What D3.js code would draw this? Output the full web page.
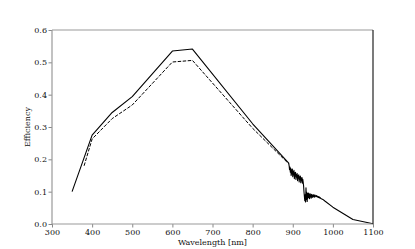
<!DOCTYPE html>
<html>
<head>
<meta charset="utf-8">
<script src="https://cdn.jsdelivr.net/npm/d3@7"></script>
<style>
  body { margin: 0; background: #fff; }
  svg text { font-family: "DejaVu Serif", serif; }
</style>
</head>
<body>
<svg id="chart" width="415" height="249"></svg>
<script>
// solid curve: smooth part, wavelength [nm] and efficiency
const solidWlA = [350, 400, 450, 500, 600, 650, 800, 890];
const solidEffA = [0.100, 0.275, 0.345, 0.394, 0.535, 0.541, 0.310, 0.188];

// solid curve: noisy part, 891..970 nm in 1 nm steps
const noisyStart = 891;
const noisyEff = [
  0.180, 0.168, 0.176, 0.160, 0.172, 0.150, 0.168, 0.155, 0.170, 0.146,
  0.162, 0.152, 0.166, 0.140, 0.158, 0.148, 0.160, 0.138, 0.154, 0.145,
  0.156, 0.134, 0.150, 0.142, 0.152, 0.130, 0.146, 0.138, 0.148, 0.128,
  0.142, 0.134, 0.144, 0.126, 0.138, 0.130, 0.118, 0.100, 0.085, 0.072,
  0.090, 0.068, 0.112, 0.076, 0.098, 0.070, 0.094, 0.080, 0.096, 0.082,
  0.092, 0.078, 0.094, 0.084, 0.090, 0.080, 0.092, 0.084, 0.089, 0.082,
  0.091, 0.085, 0.088, 0.083, 0.090, 0.086, 0.087, 0.084, 0.088, 0.085,
  0.086, 0.083, 0.085, 0.082, 0.084, 0.081, 0.083, 0.080, 0.081, 0.079
];

// solid curve: tail
const solidWlB = [975, 980, 1000, 1050, 1100];
const solidEffB = [0.076, 0.071, 0.052, 0.014, 0.001];

// dashed curve
const dashWl = [380, 400, 450, 500, 600, 650, 800, 890];
const dashEff = [0.180, 0.263, 0.326, 0.368, 0.501, 0.506, 0.296, 0.186];

const xTicks = [300, 400, 500, 600, 700, 800, 900, 1000, 1100];
const yTicks = [0.0, 0.1, 0.2, 0.3, 0.4, 0.5, 0.6];

const svg = d3.select('#chart');
const margin = { top: 30, right: 42, bottom: 25, left: 52 };
const width = 415 - margin.left - margin.right;
const height = 249 - margin.top - margin.bottom;

const x = d3.scaleLinear().domain([300, 1100]).range([0, width]);
const y = d3.scaleLinear().domain([0, 0.6]).range([height, 0]);

const g = svg.append('g').attr('transform', `translate(${margin.left},${margin.top})`);

const line = d3.line().x(d => x(d[0])).y(d => y(d[1]));

const solidData = solidWlA.map((w, i) => [w, solidEffA[i]])
  .concat(noisyEff.map((v, i) => [noisyStart + i, v]))
  .concat(solidWlB.map((w, i) => [w, solidEffB[i]]));

g.append('path')
  .datum(dashWl.map((w, i) => [w, dashEff[i]]))
  .attr('d', line)
  .attr('fill', 'none')
  .attr('stroke', '#000')
  .attr('stroke-width', 1)
  .attr('stroke-dasharray', '3.5,1.5');

g.append('path')
  .datum(solidData)
  .attr('d', line)
  .attr('fill', 'none')
  .attr('stroke', '#000')
  .attr('stroke-width', 1.1)
  .attr('stroke-linejoin', 'round');

// axes
const xAxis = g.append('g')
  .attr('transform', `translate(0,${height})`)
  .call(d3.axisBottom(x).tickValues(xTicks).tickSize(3.5).tickPadding(1.5).tickFormat(d3.format('d')));
const yAxis = g.append('g')
  .call(d3.axisLeft(y).tickValues(yTicks).tickSize(3.5).tickPadding(1.5).tickFormat(d3.format('.1f')));

[xAxis, yAxis].forEach(a => {
  a.select('.domain').remove();
  a.selectAll('line').attr('stroke', '#888');
  a.selectAll('text').attr('font-size', 8).attr('fill', '#111');
});

// spines
g.append('line').attr('x1', 0).attr('x2', width).attr('y1', 0).attr('y2', 0).attr('stroke', '#999').attr('stroke-width', 1.2);
g.append('line').attr('x1', 0).attr('x2', 0).attr('y1', 0).attr('y2', height).attr('stroke', '#999').attr('stroke-width', 1.2);
g.append('line').attr('x1', 0).attr('x2', width).attr('y1', height).attr('y2', height).attr('stroke', '#999').attr('stroke-width', 1.2);
g.append('line').attr('x1', width).attr('x2', width).attr('y1', 0).attr('y2', height).attr('stroke', '#222').attr('stroke-width', 1.2);

// labels
svg.append('text')
  .attr('x', margin.left + width / 2)
  .attr('y', 245)
  .attr('text-anchor', 'middle')
  .attr('font-size', 8)
  .attr('fill', '#111')
  .text('Wavelength [nm]');
svg.append('text')
  .attr('transform', `translate(30,${margin.top + height / 2}) rotate(-90)`)
  .attr('text-anchor', 'middle')
  .attr('font-size', 8)
  .attr('fill', '#111')
  .text('Efficiency');
</script>
</body>
</html>
